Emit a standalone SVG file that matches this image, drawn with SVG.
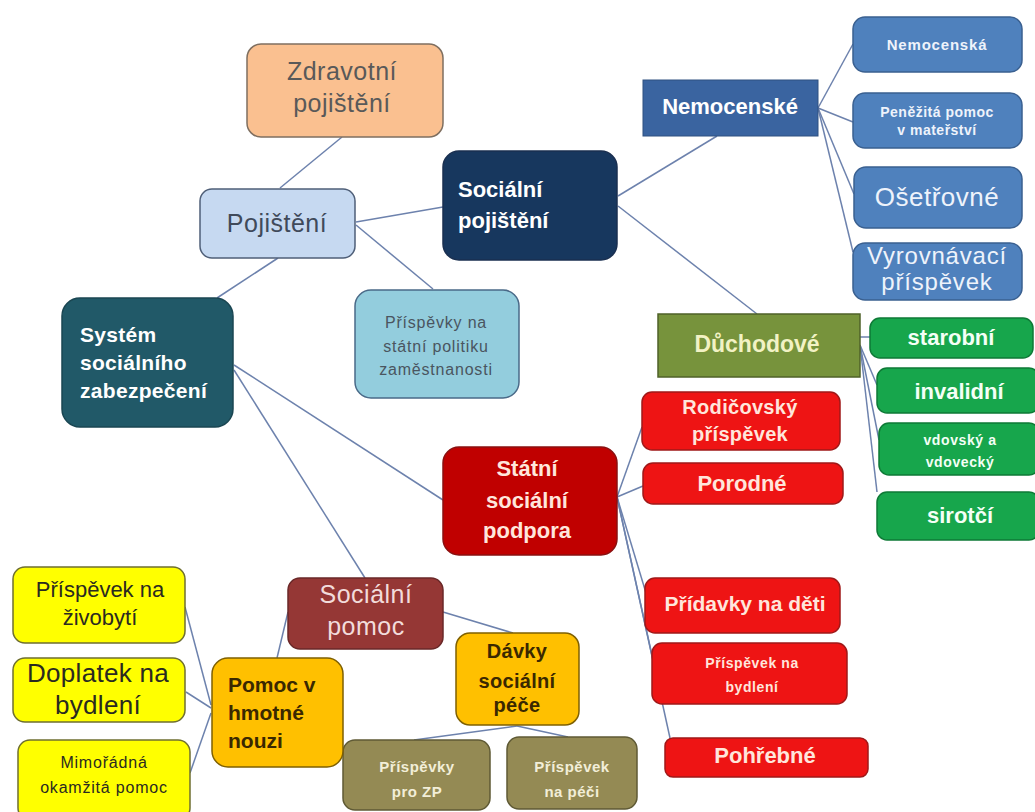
<svg xmlns="http://www.w3.org/2000/svg" width="1035" height="812" viewBox="0 0 1035 812">
<style>
text{font-family:"Liberation Sans",Arial,sans-serif;}
.c{text-anchor:middle}
.b{font-weight:bold}
.ln line{stroke:#6d82ad;stroke-width:1.5;fill:none}
.blue rect{fill:#4F81BD;stroke:#3a6090;stroke-width:1.5}
.blue text{fill:#EEF3FB}
.green rect{fill:#17A64C;stroke:#0e7a36;stroke-width:1.5}
.green text{fill:#F4FFF6;font-weight:bold}
.red rect{fill:#EE1414;stroke:#a01818;stroke-width:1.5}
.red text{fill:#FFE6DC;font-weight:bold}
.yel rect{fill:#FFFF00;stroke:#6f6f30;stroke-width:1.5}
.yel text{fill:#2a2a20}
.olive rect{fill:#948A54;stroke:#5f5a35;stroke-width:1.5}
.olive text{fill:#F2EED8;font-weight:bold}
.amber rect{fill:#FFC000;stroke:#7f6000;stroke-width:1.5}
.amber text{fill:#3a2800;font-weight:bold}
</style>
<rect width="1035" height="812" fill="#ffffff"/>
<g id="connectors" class="ln">
<line x1="342" y1="137" x2="280" y2="188"/>
<line x1="356" y1="222" x2="443" y2="207"/>
<line x1="356" y1="225" x2="433" y2="289"/>
<line x1="278" y1="258" x2="217" y2="298"/>
<line x1="234" y1="365" x2="443" y2="500"/>
<line x1="234" y1="370" x2="365" y2="578"/>
<line x1="618" y1="196" x2="717" y2="136"/>
<line x1="618" y1="206" x2="757" y2="314"/>
<line x1="818" y1="108" x2="853" y2="44"/>
<line x1="818" y1="108" x2="853" y2="122"/>
<line x1="818" y1="108" x2="854" y2="194"/>
<line x1="818" y1="108" x2="853" y2="252"/>
<line x1="860" y1="337" x2="870" y2="337"/>
<line x1="860" y1="345" x2="877" y2="385"/>
<line x1="860" y1="345" x2="879" y2="440"/>
<line x1="860" y1="345" x2="877" y2="492"/>
<line x1="617" y1="497" x2="642" y2="427"/>
<line x1="617" y1="497" x2="643" y2="486"/>
<line x1="617" y1="497" x2="646" y2="593"/>
<line x1="617" y1="497" x2="653" y2="660"/>
<line x1="617" y1="497" x2="670" y2="738"/>
<line x1="443" y1="612" x2="513" y2="633"/>
<line x1="288" y1="612" x2="277" y2="658"/>
<line x1="185" y1="607" x2="211" y2="705"/>
<line x1="186" y1="692" x2="211" y2="708"/>
<line x1="190" y1="773" x2="211" y2="713"/>
<line x1="517" y1="726" x2="414" y2="740"/>
<line x1="517" y1="726" x2="568" y2="737"/>
</g>
<g id="zdravotni">
<rect x="247" y="44" width="196" height="93" rx="14" fill="#FAC090" stroke="#7f6f60" stroke-width="1.5"/>
<text class="c" x="342" y="80" font-size="25" fill="#595959" letter-spacing="0.5">Zdravotní</text>
<text class="c" x="342" y="112" font-size="25" fill="#595959" letter-spacing="0.5">pojištění</text>
</g>
<g id="pojisteni">
<rect x="200" y="189" width="155" height="69" rx="12" fill="#C6D9F1" stroke="#4f5f78" stroke-width="1.5"/>
<text class="c" x="277" y="232" font-size="25" fill="#404a5a" letter-spacing="0.5">Pojištění</text>
</g>
<g id="socialni-pojisteni">
<rect x="443" y="151" width="174" height="109" rx="16" fill="#17375E" stroke="#1a2f50" stroke-width="1.5"/>
<text x="458" y="197" font-size="22" class="b" fill="#ffffff">Sociální</text>
<text x="458" y="228" font-size="22" class="b" fill="#ffffff">pojištění</text>
</g>
<g id="prispevky-spz">
<rect x="355" y="290" width="164" height="108" rx="16" fill="#93CDDD" stroke="#4a6a88" stroke-width="1.5"/>
<text class="c" x="436" y="328" font-size="16" fill="#4a5560" letter-spacing="0.8">Příspěvky na</text>
<text class="c" x="436" y="352" font-size="16" fill="#4a5560" letter-spacing="0.8">státní politiku</text>
<text class="c" x="436" y="375" font-size="16" fill="#4a5560" letter-spacing="0.8">zaměstnanosti</text>
</g>
<g id="system">
<rect x="62" y="298" width="171" height="129" rx="18" fill="#215968" stroke="#1a4652" stroke-width="1.5"/>
<text x="80" y="342" font-size="21" class="b" fill="#ffffff" letter-spacing="0.3">Systém</text>
<text x="80" y="370" font-size="21" class="b" fill="#ffffff" letter-spacing="0.3">sociálního</text>
<text x="80" y="398" font-size="21" class="b" fill="#ffffff" letter-spacing="0.3">zabezpečení</text>
</g>
<g id="nemocenske">
<rect x="643" y="80" width="175" height="56" fill="#3A64A0" stroke="#2f5080" stroke-width="1"/>
<text class="c b" x="730" y="114" font-size="22" fill="#ffffff">Nemocenské</text>
</g>
<g id="nemocenska" class="blue">
<rect x="853" y="17" width="169" height="55" rx="12"/>
<text class="c b" x="937" y="50" font-size="15" letter-spacing="0.8">Nemocenská</text>
</g>
<g id="penezita" class="blue">
<rect x="853" y="93" width="169" height="55" rx="12"/>
<text class="c b" x="937" y="117" font-size="14" letter-spacing="0.5">Peněžitá pomoc</text>
<text class="c b" x="937" y="135" font-size="14" letter-spacing="0.5">v mateřství</text>
</g>
<g id="osetrovne" class="blue">
<rect x="854" y="167" width="168" height="61" rx="12"/>
<text class="c" x="937" y="206" font-size="26" letter-spacing="0.5">Ošetřovné</text>
</g>
<g id="vyrovnavaci" class="blue">
<rect x="853" y="243" width="169" height="57" rx="12"/>
<text class="c" x="937" y="264" font-size="24" letter-spacing="0.8">Vyrovnávací</text>
<text class="c" x="937" y="290" font-size="24" letter-spacing="0.8">příspěvek</text>
</g>
<g id="duchodove">
<rect x="658" y="314" width="202" height="63" fill="#77933C" stroke="#4f6228" stroke-width="1.5"/>
<text class="c b" x="757" y="352" font-size="23" fill="#F2F2C4">Důchodové</text>
</g>
<g id="starobni" class="green">
<rect x="870" y="318" width="163" height="40" rx="10"/>
<text class="c" x="951" y="345" font-size="22">starobní</text>
</g>
<g id="invalidni" class="green">
<rect x="877" y="368" width="162" height="45" rx="10"/>
<text class="c" x="959" y="399" font-size="22">invalidní</text>
</g>
<g id="vdovsky" class="green">
<rect x="879" y="423" width="160" height="52" rx="10"/>
<text class="c" x="960" y="445" font-size="14" letter-spacing="0.6">vdovský a</text>
<text class="c" x="960" y="467" font-size="14" letter-spacing="0.6">vdovecký</text>
</g>
<g id="sirotci" class="green">
<rect x="877" y="492" width="162" height="48" rx="10"/>
<text class="c" x="960" y="523" font-size="22">sirotčí</text>
</g>
<g id="statni" >
<rect x="443" y="447" width="174" height="108" rx="16" fill="#C00000" stroke="#8a1010" stroke-width="1.5"/>
<text class="c b" x="527" y="476" font-size="22" fill="#FFE6DC">Státní</text>
<text class="c b" x="527" y="508" font-size="22" fill="#FFE6DC">sociální</text>
<text class="c b" x="527" y="538" font-size="22" fill="#FFE6DC">podpora</text>
</g>
<g id="rodicovsky" class="red">
<rect x="642" y="392" width="198" height="58" rx="10"/>
<text class="c" x="740" y="414" font-size="20" letter-spacing="0.3">Rodičovský</text>
<text class="c" x="740" y="441" font-size="20" letter-spacing="0.3">příspěvek</text>
</g>
<g id="porodne" class="red">
<rect x="643" y="463" width="200" height="41" rx="10"/>
<text class="c" x="742" y="491" font-size="22">Porodné</text>
</g>
<g id="pridavky" class="red">
<rect x="645" y="578" width="195" height="55" rx="10"/>
<text class="c" x="745" y="611" font-size="21">Přídavky na děti</text>
</g>
<g id="prispevek-bydleni" class="red">
<rect x="652" y="643" width="195" height="61" rx="10"/>
<text class="c" x="752" y="668" font-size="14" letter-spacing="0.6">Příspěvek na</text>
<text class="c" x="752" y="692" font-size="14" letter-spacing="0.6">bydlení</text>
</g>
<g id="pohrebne" class="red">
<rect x="665" y="738" width="203" height="39" rx="8"/>
<text class="c" x="765" y="763" font-size="22">Pohřebné</text>
</g>
<g id="socialni-pomoc">
<rect x="288" y="578" width="155" height="71" rx="12" fill="#953735" stroke="#6a2828" stroke-width="1.5"/>
<text class="c" x="366" y="603" font-size="25" fill="#F2DCDB" letter-spacing="0.5">Sociální</text>
<text class="c" x="366" y="635" font-size="25" fill="#F2DCDB" letter-spacing="0.5">pomoc</text>
</g>
<g id="davky" class="amber">
<rect x="456" y="633" width="123" height="92" rx="14"/>
<text class="c" x="517" y="658" font-size="20" letter-spacing="0.3">Dávky</text>
<text class="c" x="517" y="688" font-size="20" letter-spacing="0.3">sociální</text>
<text class="c" x="517" y="712" font-size="20" letter-spacing="0.3">péče</text>
</g>
<g id="prispevky-zp" class="olive">
<rect x="343" y="740" width="147" height="70" rx="12"/>
<text class="c" x="417" y="772" font-size="15" letter-spacing="0.5">Příspěvky</text>
<text class="c" x="417" y="797" font-size="15" letter-spacing="0.5">pro ZP</text>
</g>
<g id="prispevek-pece" class="olive">
<rect x="507" y="737" width="130" height="72" rx="12"/>
<text class="c" x="572" y="772" font-size="15" letter-spacing="0.5">Příspěvek</text>
<text class="c" x="572" y="797" font-size="15" letter-spacing="0.5">na péči</text>
</g>
<g id="pomoc-hn" class="amber">
<rect x="212" y="658" width="131" height="109" rx="16"/>
<text x="228" y="692" font-size="21">Pomoc v</text>
<text x="228" y="720" font-size="21">hmotné</text>
<text x="228" y="748" font-size="21">nouzi</text>
</g>
<g id="zivobyti" class="yel">
<rect x="13" y="567" width="172" height="76" rx="12"/>
<text class="c" x="100" y="597" font-size="22">Příspěvek na</text>
<text class="c" x="100" y="625" font-size="22">živobytí</text>
</g>
<g id="doplatek" class="yel">
<rect x="13" y="658" width="172" height="64" rx="12"/>
<text class="c" x="98" y="682" font-size="26" letter-spacing="0.3">Doplatek na</text>
<text class="c" x="98" y="714" font-size="26" letter-spacing="0.3">bydlení</text>
</g>
<g id="mimoradna" class="yel">
<rect x="18" y="740" width="172" height="80" rx="12"/>
<text class="c" x="104" y="768" font-size="16" letter-spacing="0.8">Mimořádná</text>
<text class="c" x="104" y="793" font-size="16" letter-spacing="0.8">okamžitá pomoc</text>
</g>
</svg>
